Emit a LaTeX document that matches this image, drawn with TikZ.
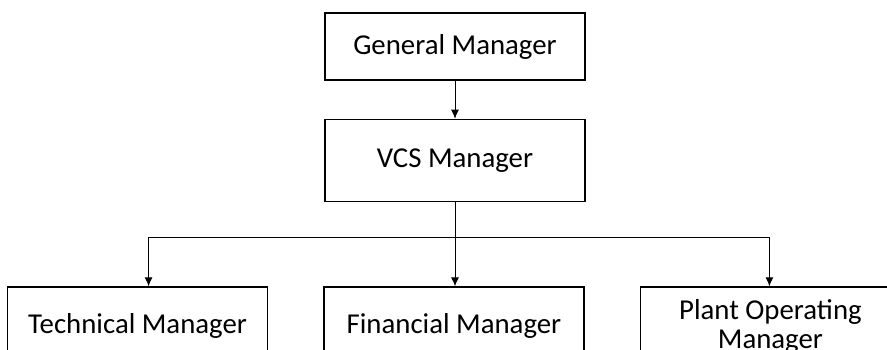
\documentclass[tikz,border=0pt]{standalone}
\usepackage{fontspec}
\setmainfont{Carlito}
\usepackage{tikz}
\usetikzlibrary{arrows,arrows.meta,shapes,positioning}

\tikzset{
  post/.style={rectangle, draw, line width=1.4pt, minimum width=260pt, align=center, font=\fontsize{28.8}{29}\selectfont},
  link/.style={line width=0.9pt, -{Latex[length=9pt,width=8pt]}}
}

\begin{document}
\begin{tikzpicture}[x=1pt, y=-1pt]
            \clip (0,0) rectangle (887,350);
            \node (gm) [post, minimum height=67pt] at (455,46.5) {General Manager};
            \node (vcs) [post, minimum height=82pt, below=38pt of gm] {VCS Manager};
            \node (fin) [post, minimum height=78pt] at (454,326) {Financial Manager};
            \node (tech) [post, minimum height=78pt, left=55pt of fin] {Technical Manager};
            \node (plant) [post, minimum height=78pt, right=55pt of fin] {Plant Operating\\Manager};
            \draw[link] (gm) -- (vcs);
            \draw[line width=0.9pt] (vcs.south) -- ++(0,35) coordinate (split);
            \draw[link] (split) -| ([xshift=11pt]tech.north);
            \draw[link] (split) -- (split |- fin.north);
            \draw[link] (split) -| ([xshift=-1pt]plant.north);
        \end{tikzpicture}
\end{document}
